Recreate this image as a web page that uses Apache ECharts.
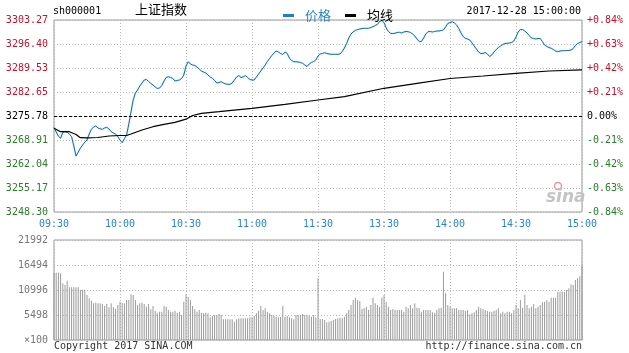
<!DOCTYPE html>
<html><head><meta charset="utf-8">
<script src="https://cdn.jsdelivr.net/npm/echarts@6/dist/echarts.min.js"></script>
<style>html,body{margin:0;padding:0;background:#fff}#c{width:629px;height:353px}</style>
</head><body><div id="c"></div><script>
const timeLabels = ['09:30','10:00','10:30','11:00','11:30','13:30','14:00','14:30','15:00'];
const priceTicks = ['3248.30','3255.17','3262.04','3268.91','3275.78','3282.65','3289.53','3296.40','3303.27'];
const pctTicks = ['-0.84%','-0.63%','-0.42%','-0.21%','0.00%','+0.21%','+0.42%','+0.63%','+0.84%'];
const volTicks = ['\u00d7100','5498','10996','16494','21992'];
const priceMin = 3248.30, priceMax = 3303.27, prevClose = 3275.78, volMax = 21992;

const price = [
3272.49,3271.20,3270.00,3269.40,3271.12,3271.30,3271.12,3270.60,3269.86,3267.20,
3264.30,3265.40,3266.60,3267.48,3268.30,3268.91,3270.63,3271.98,3272.64,3272.92,
3272.35,3272.10,3271.98,3272.35,3272.55,3272.06,3271.29,3270.90,3270.63,3269.86,
3268.91,3268.14,3269.30,3270.35,3273.49,3276.93,3280.37,3282.37,3283.23,3284.37,
3285.23,3286.09,3286.24,3285.66,3285.09,3284.66,3284.09,3283.66,3283.80,3284.52,
3285.81,3286.81,3287.04,3286.81,3286.52,3285.81,3285.95,3286.09,3286.52,3287.52,
3290.10,3291.33,3290.67,3290.39,3290.24,3289.81,3289.24,3288.67,3288.38,3288.10,
3287.52,3286.95,3286.58,3285.95,3285.23,3285.37,3285.61,3285.23,3284.95,3284.86,
3284.86,3285.23,3286.09,3286.95,3287.38,3286.81,3286.95,3287.38,3286.81,3286.24,
3286.09,3286.09,3286.95,3287.81,3288.67,3289.53,3290.39,3291.39,3292.25,3293.11,
3293.82,3294.39,3294.11,3293.68,3293.39,3294.11,3293.68,3292.39,3291.67,3291.33,
3291.33,3291.25,3291.10,3290.87,3290.39,3289.96,3290.67,3291.10,3291.39,3291.82,
3292.96,3293.54,3293.68,3293.91,3293.68,3293.54,3293.45,3293.45,3293.45,3293.45,
3293.54,3294.25,3295.25,3296.54,3298.12,3299.26,3299.89,3300.26,3300.55,3300.69,
3300.84,3300.89,3300.89,3300.89,3301.12,3301.35,3301.70,3301.98,3302.84,3303.13,
3302.55,3300.98,3299.98,3299.46,3299.40,3299.46,3299.69,3299.75,3299.55,3299.83,
3299.98,3299.92,3299.69,3299.26,3298.69,3297.83,3297.11,3297.11,3298.12,3299.26,
3299.92,3299.98,3299.83,3299.98,3300.12,3300.12,3300.26,3300.41,3301.27,3302.27,
3302.55,3302.78,3302.41,3301.84,3300.84,3299.55,3298.55,3297.97,3297.83,3297.54,
3296.69,3295.83,3294.97,3294.11,3293.68,3293.68,3293.97,3293.54,3292.82,3293.25,
3294.11,3294.82,3295.40,3295.83,3296.26,3296.54,3296.60,3296.69,3296.83,3297.26,
3298.40,3299.83,3300.55,3300.55,3300.12,3299.55,3298.83,3298.12,3297.97,3297.83,
3297.97,3297.97,3297.11,3296.11,3295.68,3295.40,3295.17,3294.82,3294.39,3294.19,
3294.39,3294.48,3294.48,3294.54,3294.54,3294.68,3295.11,3295.97,3296.54,3296.83,
3297.11
];

const avgMinutes = [0,3,7,10,12,15,20,25,30,33,35,40,45,50,55,60,63,67,75,90,105,120,132,150,165,180,195,210,225,240];
const avgValues = [3272.27,3271.29,3271.29,3270.49,3269.57,3269.55,3269.63,3270.06,3270.20,3270.20,
3270.63,3271.78,3272.72,3273.41,3273.98,3274.87,3275.93,3276.56,3277.02,3277.99,
3279.13,3280.37,3281.31,3283.72,3285.15,3286.52,3287.24,3288.01,3288.67,3289.01];

const volume = [
14800,14800,14800,14660,12460,12100,13050,11580,11580,11580,
11580,11580,11000,11000,11000,9900,9160,8650,8060,8210,
8060,8060,7920,7480,7920,7180,8060,7180,6820,7700,
8430,8210,8060,8800,8800,10040,9900,8800,7700,8060,
8210,7920,7330,7920,6740,7480,6450,5860,6230,6230,
7480,7330,6600,6230,6230,6450,6010,6230,5500,8430,
10040,9530,8800,7480,6740,6230,6600,6010,5860,6010,
5860,4980,5280,5500,5500,5720,5500,4540,4540,4540,
4540,4540,4030,4540,4760,4760,4760,4760,4760,4980,
4980,5280,5860,6450,7480,6600,6960,6230,5860,5500,
5280,5130,4980,5130,7480,5130,5280,4980,4760,4540,
5500,5500,5500,5720,5500,5500,5280,5130,5500,5000,
13560,4620,4620,4400,3890,4030,4180,4400,4620,4760,
4910,4760,5130,5860,6600,7700,8800,9310,8800,8580,
6820,6960,7330,6600,7700,9310,8060,7700,7330,9310,
9900,8430,7330,6600,6820,6600,6600,6600,6600,6230,
7330,6960,7700,6960,8060,7110,6960,6230,6600,6600,
6600,6600,6080,5860,6600,6960,7110,15030,10260,7700,
7330,6960,6960,6960,6600,6600,6600,6380,6600,5640,
5860,6080,6600,7330,6960,6820,6600,6380,6230,6230,
6380,6600,6960,5860,6230,5860,6230,6230,5860,6600,
7700,6960,8800,7110,9900,7700,6960,7330,7840,6960,
7330,7700,8280,8430,8800,8430,9310,9310,9310,10630,
10630,10630,10630,11000,11360,12240,12100,13190,13560,14000,
16490
];

const RED = '#c0142a', GREEN = '#2a7d2a', BLUE = '#2b87c3';
const MONO = '"DejaVu Sans Mono", "Liberation Mono", monospace';
const CJK = '"Noto Sans CJK SC", sans-serif';
function tickColor(v){ v = Number(v); return v > 0 ? RED : (v < 0 ? GREEN : '#000'); }
const dotted = { show: true, lineStyle: { color: '#b8b8b8', type: [1, 2], width: 1 } };

const chart = echarts.init(document.getElementById('c'), null, { renderer: 'canvas' });
chart.setOption({
  animation: false,
  backgroundColor: '#fff',
  grid: [
    { left: 54, right: 47, top: 20, height: 192, show: true, borderColor: '#999', borderWidth: 1 },
    { left: 54, right: 47, top: 240, height: 100, show: true, borderColor: '#999', borderWidth: 1 }
  ],
  legend: {
    left: 278, top: 4, icon: 'rect', itemWidth: 11, itemHeight: 3, itemGap: 14,
    textStyle: { fontFamily: CJK, fontSize: 13, padding: [0, 0, 0, 6] },
    data: [
      { name: '价格', itemStyle: { color: '#1f7fc4' }, textStyle: { color: BLUE } },
      { name: '均线', itemStyle: { color: '#000' }, textStyle: { color: '#000' } }
    ]
  },
  xAxis: [
    { type: 'value', gridIndex: 0, min: 0, max: 240, interval: 30,
      axisLine: { show: false }, axisTick: { show: false }, splitLine: dotted,
      axisLabel: { margin: 7, color: BLUE, fontFamily: MONO, fontSize: 10,
        formatter: v => timeLabels[Math.round(v / 30)] } },
    { type: 'value', gridIndex: 1, min: 0, max: 240, interval: 30,
      axisLine: { show: false }, axisTick: { show: false }, splitLine: dotted,
      axisLabel: { show: false } }
  ],
  yAxis: [
    { type: 'value', gridIndex: 0, position: 'left', min: -4, max: 4, interval: 1,
      axisLine: { show: false }, axisTick: { show: false }, splitLine: dotted,
      axisLabel: { margin: 6, fontFamily: MONO, fontSize: 10, color: tickColor,
        formatter: v => priceTicks[Math.round(v) + 4] } },
    { type: 'value', gridIndex: 0, position: 'right', min: -4, max: 4, interval: 1,
      axisLine: { show: false }, axisTick: { show: false }, splitLine: { show: false },
      axisLabel: { margin: 5, fontFamily: MONO, fontSize: 10, color: tickColor,
        formatter: v => pctTicks[Math.round(v) + 4] } },
    { type: 'value', gridIndex: 0, show: false, min: priceMin, max: priceMax },
    { type: 'value', gridIndex: 1, position: 'left', min: 0, max: volMax, interval: volMax / 4,
      axisLine: { show: false }, axisTick: { show: false }, splitLine: dotted,
      axisLabel: { margin: 6, fontFamily: MONO, fontSize: 10, color: '#777',
        formatter: v => volTicks[Math.round(v / (volMax / 4))] } }
  ],
  series: [
    { name: '价格', type: 'line', xAxisIndex: 0, yAxisIndex: 2, showSymbol: false, symbol: 'none',
      data: price.map((v, i) => [i, v]),
      lineStyle: { color: '#22668e', width: 1, shadowColor: 'rgba(140,215,242,0.9)', shadowBlur: 2 },
      itemStyle: { color: '#22668e' },
      markLine: { silent: true, symbol: ['none', 'none'], label: { show: false },
        lineStyle: { color: '#000', type: [3, 2], width: 1 },
        data: [{ yAxis: prevClose }] } },
    { name: '均线', type: 'line', xAxisIndex: 0, yAxisIndex: 2, showSymbol: false, symbol: 'none',
      data: avgMinutes.map((m, i) => [m, avgValues[i]]),
      lineStyle: { color: '#000', width: 1.2 }, itemStyle: { color: '#000' } },
    { name: '成交量', type: 'bar', xAxisIndex: 1, yAxisIndex: 3, barWidth: 1,
      data: volume.map((v, i) => [i, v]),
      itemStyle: { color: '#9a9a9a' } }
  ],
  graphic: [
    { type: 'text', left: 53, top: 6, style: { text: 'sh000001', font: '10px ' + MONO, fill: '#000' } },
    { type: 'text', left: 135, top: 3, style: { text: '上证指数', font: '13px ' + CJK, fill: '#000' } },
    { type: 'text', right: 48, top: 6, style: { text: '2017-12-28 15:00:00', font: '10px ' + MONO, fill: '#000' } },
    { type: 'text', left: 54, top: 341, style: { text: 'Copyright 2017 SINA.COM', font: '10px ' + MONO, fill: '#333' } },
    { type: 'text', right: 47, top: 341, style: { text: 'http://finance.sina.com.cn', font: '10px ' + MONO, fill: '#333' } },
    { type: 'circle', shape: { cx: 558, cy: 186, r: 3.5 }, style: { fill: 'none', stroke: '#e59a9a', lineWidth: 1.5 } },
    { type: 'text', left: 546, top: 189, style: { text: 'sina', font: 'italic bold 17px "DejaVu Sans", sans-serif', fill: '#c4c4c4' } }
  ]
});
</script></body></html>
